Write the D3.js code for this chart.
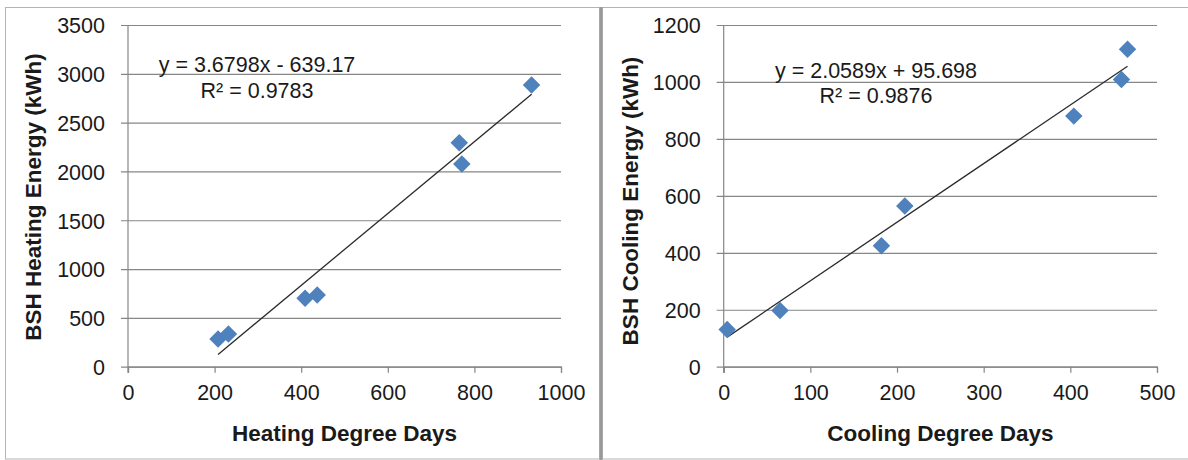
<!DOCTYPE html>
<html>
<head>
<meta charset="utf-8">
<script src="https://cdn.jsdelivr.net/npm/d3@7"></script>
<style>
  html, body { margin: 0; padding: 0; background: #fff; }
  svg { display: block; }
  .tick text { font-family: "Liberation Sans", Arial, sans-serif; font-size: 21.5px; fill: #1a1a1a; }
</style>
</head>
<body>
<svg id="chart" width="1188" height="460"></svg>
<script>
// Heating: degree days vs. energy
const heatingDays = [208, 232, 409, 437, 765, 771, 932];
const heatingEnergy = [284, 335, 700, 734, 2294, 2076, 2885];
const heatingXTicks = [0, 200, 400, 600, 800, 1000];
const heatingYTicks = [0, 500, 1000, 1500, 2000, 2500, 3000, 3500];
const heatingFit = { slope: 3.6798, intercept: -639.17, r2: 0.9783 };
const heatingLabels = ["y = 3.6798x - 639.17", "R\u00B2 = 0.9783"];

// Cooling: degree days vs. energy
const coolingDays = [4, 65, 182, 209, 404, 459, 466];
const coolingEnergy = [131, 197, 425, 564, 880, 1009, 1115];
const coolingXTicks = [0, 100, 200, 300, 400, 500];
const coolingYTicks = [0, 200, 400, 600, 800, 1000, 1200];
const coolingFit = { slope: 2.0589, intercept: 95.698, r2: 0.9876 };
const coolingLabels = ["y = 2.0589x + 95.698", "R\u00B2 = 0.9876"];

const svg = d3.select("#chart");
const FONT = '"Liberation Sans", Arial, sans-serif';
const GRID = "#868686";
const MARK = "#4F81BD";

// panel frames
svg.append("rect").attr("x", 5.5).attr("y", 7.5).attr("width", 594).attr("height", 451.5)
  .attr("fill", "none").attr("stroke", "#b4b4b4").attr("stroke-width", 1);
svg.append("rect").attr("x", 602.5).attr("y", 7.5).attr("width", 600).attr("height", 451.5)
  .attr("fill", "none").attr("stroke", "#b4b4b4").attr("stroke-width", 1);
svg.append("line").attr("x1", 601).attr("x2", 601).attr("y1", 7).attr("y2", 460)
  .attr("stroke", "#999").attr("stroke-width", 3);

function drawPanel(p) {
  const x = d3.scaleLinear().domain(d3.extent(p.xTicks)).range([p.left, p.right]);
  const y = d3.scaleLinear().domain(d3.extent(p.yTicks)).range([p.bottom, p.top]);
  const g = svg.append("g");

  // horizontal gridlines with outer tick marks
  const yAxis = g.append("g").attr("transform", `translate(${p.left},0)`)
    .call(d3.axisLeft(y).tickValues(p.yTicks).tickFormat(d3.format("d"))
      .tickSize(-(p.right - p.left)).tickPadding(23));
  yAxis.select(".domain").remove();
  yAxis.selectAll(".tick line").attr("stroke", GRID).attr("stroke-width", 1.2).attr("x1", -7);
  yAxis.selectAll(".tick text").attr("x", -23).attr("dy", "0.36em");

  // x axis with downward ticks
  const xAxis = g.append("g").attr("transform", `translate(0,${p.bottom})`)
    .call(d3.axisBottom(x).tickValues(p.xTicks).tickFormat(d3.format("d"))
      .tickSize(6).tickPadding(12));
  xAxis.select(".domain").attr("stroke", GRID).attr("stroke-width", 1.2);
  xAxis.selectAll(".tick line").attr("stroke", GRID).attr("stroke-width", 1.2);

  // vertical axis line
  g.append("line").attr("x1", p.left).attr("x2", p.left).attr("y1", p.top).attr("y2", p.bottom + 6)
    .attr("stroke", GRID).attr("stroke-width", 1.2);

  // linear trendline over the data range
  const xs = d3.extent(p.xs);
  g.append("line")
    .attr("x1", x(xs[0])).attr("y1", y(p.fit.slope * xs[0] + p.fit.intercept))
    .attr("x2", x(xs[1])).attr("y2", y(p.fit.slope * xs[1] + p.fit.intercept))
    .attr("stroke", "#2a2a2a").attr("stroke-width", 1.3);

  // diamond markers
  const pts = p.xs.map((v, i) => [v, p.ys[i]]);
  g.selectAll("path.pt").data(pts).join("path").attr("class", "pt")
    .attr("d", d3.symbol(d3.symbolDiamond2, 195))
    .attr("transform", d => `translate(${x(d[0])},${y(d[1])})`)
    .attr("fill", MARK);

  // equation labels
  p.labels.forEach((t, i) => {
    g.append("text").attr("x", p.eqX).attr("y", p.eqY[i]).attr("text-anchor", "middle")
      .attr("font-family", FONT).attr("font-size", 21.5).attr("fill", "#1a1a1a").text(t);
  });

  // axis titles
  g.append("text").attr("x", (p.left + p.right) / 2).attr("y", 441).attr("text-anchor", "middle")
    .attr("font-family", FONT).attr("font-weight", "bold").attr("font-size", 22.5).attr("fill", "#1a1a1a")
    .text(p.xTitle);
  g.append("text").attr("transform", `translate(${p.yTitleX},${p.yTitleY}) rotate(-90)`)
    .attr("text-anchor", "middle")
    .attr("font-family", FONT).attr("font-weight", "bold").attr("font-size", 22.5).attr("fill", "#1a1a1a")
    .text(p.yTitle);
}

drawPanel({
  left: 128, right: 561, top: 25, bottom: 366.7,
  xTicks: heatingXTicks, yTicks: heatingYTicks,
  xs: heatingDays, ys: heatingEnergy, fit: heatingFit, labels: heatingLabels,
  eqX: 257, eqY: [72, 98],
  xTitle: "Heating Degree Days", yTitle: "BSH Heating Energy  (kWh)",
  yTitleX: 41, yTitleY: 197
});

drawPanel({
  left: 723.7, right: 1157, top: 25, bottom: 366.7,
  xTicks: coolingXTicks, yTicks: coolingYTicks,
  xs: coolingDays, ys: coolingEnergy, fit: coolingFit, labels: coolingLabels,
  eqX: 876, eqY: [78, 103],
  xTitle: "Cooling Degree Days", yTitle: "BSH Cooling Energy (kWh)",
  yTitleX: 638, yTitleY: 201
});
</script>
</body>
</html>
